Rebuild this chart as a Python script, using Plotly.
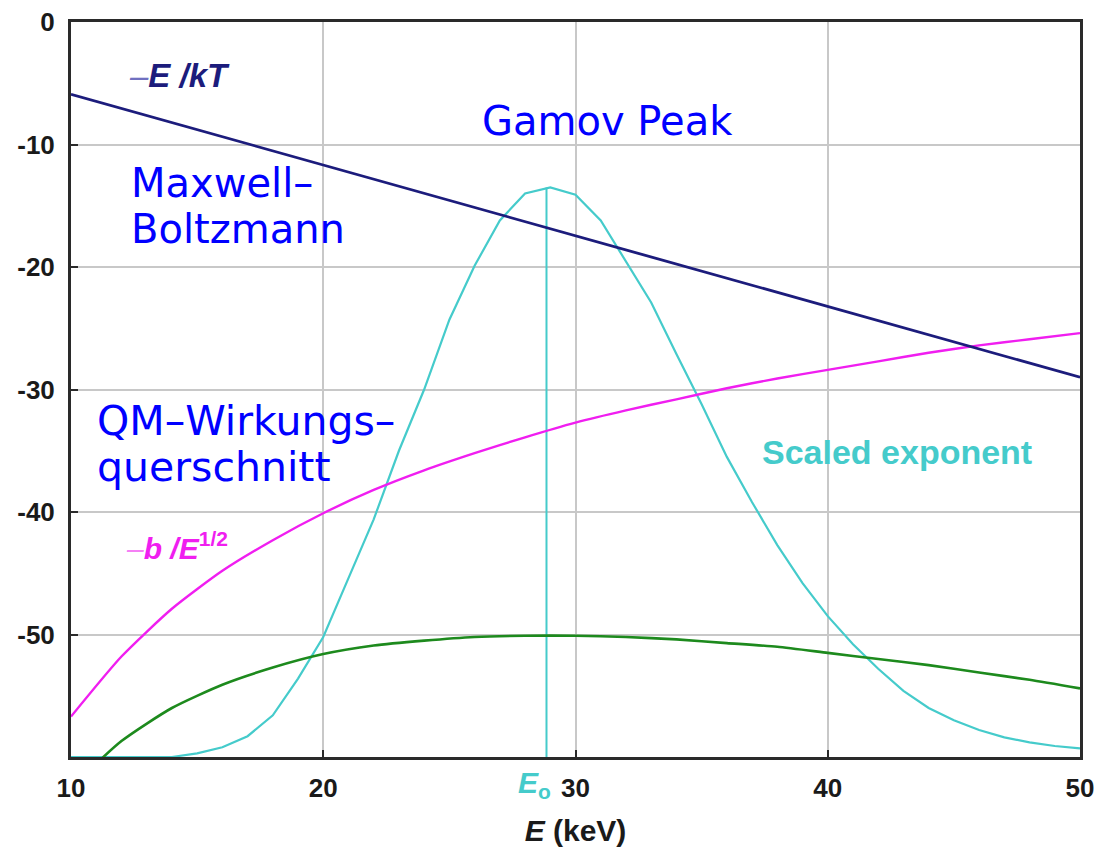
import plotly.graph_objects as go

# Energy samples (keV)
energy_1kev = list(range(10, 51))
energy_2kev = list(range(10, 51, 2))
energy_line = [10, 50]

# -E/kT : Maxwell-Boltzmann exponent (straight line)
maxwell = [-5.9, -29.0]

# -b/E^(1/2) : tunnelling (cross-section) exponent
tunnel = [-56.7, -51.8, -47.9, -44.8, -42.3, -40.1, -38.2, -36.6, -35.2, -33.9, -32.7,
          -31.7, -30.8, -29.9, -29.1, -28.4, -27.7, -27.0, -26.4, -25.9, -25.4]

# Sum of both exponents
total = [-62.5, -58.7, -56.0, -54.1, -52.7, -51.6, -50.9, -50.5, -50.2, -50.1, -50.1,
         -50.2, -50.4, -50.7, -51.0, -51.5, -52.0, -52.5, -53.1, -53.7, -54.4]

# Scaled exponent (Gamow peak)
scaled = [-60.0, -60.0, -60.0, -60.0, -60.0, -59.7, -59.2, -58.3, -56.6, -53.6,
          -50.2, -45.4, -40.6, -35.0, -30.0, -24.3, -19.9, -16.2, -14.0, -13.5,
          -14.1, -16.2, -19.6, -22.9, -27.1, -31.2, -35.5, -39.2, -42.7, -45.8,
          -48.5, -50.8, -52.8, -54.6, -56.0, -57.0, -57.8, -58.4, -58.8, -59.1, -59.3]

e0 = 28.85
peak = max(scaled)

x_ticks = [10, 20, 30, 40, 50]
x_ticktext = ["10", "20", "30", "40", "50"]
y_ticks = [0, -10, -20, -30, -40, -50]
y_ticktext = ["0", "-10", "-20", "-30", "-40", "-50"]

NAVY = "#1c1c7c"
MAGENTA = "#f01ef0"
GREEN = "#1d8a1d"
CYAN = "#45cbcb"
BLUE = "#0000ff"

W, H = 1094, 855
L, R, T, B = 71, 14, 22, 98
X0, X1 = 10, 50
Y0, Y1 = -60, 0


def px_to_paper(px, py):
    x = (px - L) / (W - L - R)
    y = 1 - (py - T) / (H - T - B)
    return x, y


fig = go.Figure()

fig.add_trace(go.Scatter(x=energy_1kev, y=scaled, mode="lines",
                         line=dict(color=CYAN, width=2.2), hoverinfo="skip"))
fig.add_trace(go.Scatter(x=[e0, e0], y=[Y0, peak], mode="lines",
                         line=dict(color=CYAN, width=2), hoverinfo="skip"))
fig.add_trace(go.Scatter(x=energy_2kev, y=total, mode="lines",
                         line=dict(color=GREEN, width=2.6, shape="spline", smoothing=0.6),
                         hoverinfo="skip"))
fig.add_trace(go.Scatter(x=energy_2kev, y=tunnel, mode="lines",
                         line=dict(color=MAGENTA, width=2.4, shape="spline", smoothing=0.6),
                         hoverinfo="skip"))
fig.add_trace(go.Scatter(x=energy_line, y=maxwell, mode="lines",
                         line=dict(color=NAVY, width=2.8), hoverinfo="skip"))


def label(text, px, py, size, color, family="DejaVu Sans", anchor="left"):
    x, y = px_to_paper(px, py)
    fig.add_annotation(x=x, y=y, xref="paper", yref="paper", text=text, showarrow=False,
                       xanchor=anchor, yanchor="middle",
                       font=dict(family=family, size=size, color=color))


ARIAL = "Liberation Sans"
label("<i><span style='color:#7070c0'>–</span><b>E /kT</b></i>", 127, 75, 33, NAVY, ARIAL)
label("Gamov Peak", 480, 121, 40, BLUE)
label("Maxwell–", 129, 183, 40, BLUE)
label("Boltzmann", 129, 229, 40, BLUE)
label("QM–Wirkungs–", 95, 421, 41, BLUE)
label("querschnitt", 95, 467, 41, BLUE)
label("<i><span style='color:#f580f5'>–</span><b>b /E</b></i><b><sup>1/2</sup></b>",
      124, 546, 30, MAGENTA, ARIAL)
label("<b>Scaled exponent</b>", 760, 452, 34, CYAN, ARIAL)
label("<b><i>E</i></b><b><sub>o</sub></b>", 516, 784, 30, CYAN, ARIAL)

fig.update_layout(
    width=W, height=H,
    margin=dict(l=L, r=R, t=T, b=B, autoexpand=False),
    paper_bgcolor="white", plot_bgcolor="white",
    showlegend=False,
    font=dict(family=ARIAL, color="#1a1a1a"),
)

fig.update_xaxes(
    range=[X0, X1], tickvals=x_ticks, ticktext=x_ticktext, automargin=False,
    ticklabeloverflow="allow",
    showgrid=True, gridcolor="#c8c8c8", gridwidth=2,
    showline=True, linecolor="#2a2a2a", linewidth=3, mirror=True,
    ticks="inside", ticklen=7, tickwidth=2, tickcolor="#2a2a2a",
    tickfont=dict(family=ARIAL, size=26, color="#1a1a1a", weight="bold"),
    ticklabelstandoff=6,
    title=dict(text="<b><i>E</i> (keV)</b>", font=dict(family=ARIAL, size=30, color="#1a1a1a"),
               standoff=18),
    zeroline=False,
)
fig.update_yaxes(
    range=[Y0, Y1], tickvals=y_ticks, ticktext=y_ticktext, automargin=False,
    ticklabeloverflow="allow",
    showgrid=True, gridcolor="#c8c8c8", gridwidth=2,
    showline=True, linecolor="#2a2a2a", linewidth=3, mirror=True,
    ticks="inside", ticklen=7, tickwidth=2, tickcolor="#2a2a2a",
    tickfont=dict(family=ARIAL, size=26, color="#1a1a1a", weight="bold"),
    ticklabelstandoff=8,
    zeroline=False,
)

fig.write_html("out.html")
